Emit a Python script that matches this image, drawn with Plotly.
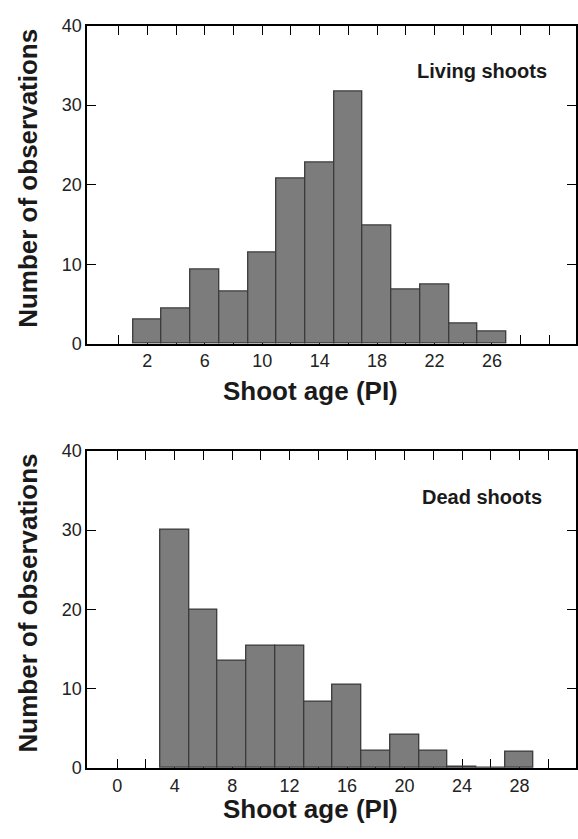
import plotly.graph_objects as go

# ---- data ----
bin_width = 2
living_bins = [2, 4, 6, 8, 10, 12, 14, 16, 18, 20, 22, 24, 26]
living_counts = [3.0, 4.4, 9.3, 6.6, 11.5, 20.8, 22.8, 31.7, 14.9, 6.8, 7.5, 2.6, 1.6]
dead_bins = [4, 6, 8, 10, 12, 14, 16, 18, 20, 22, 24, 26, 28]
dead_counts = [30.0, 20.0, 13.5, 15.4, 15.4, 8.4, 10.5, 2.2, 4.2, 2.2, 0.2, 0.0, 2.1]

x_tick_vals = list(range(0, 31, 2))
living_tick_text = [str(v) if v % 4 == 2 and v <= 26 else "" for v in x_tick_vals]
dead_tick_text = [str(v) if v % 4 == 0 and v <= 28 else "" for v in x_tick_vals]
y_tick_vals = [0, 10, 20, 30, 40]

panel_labels = ["Living shoots", "Dead shoots"]
x_title = "Shoot age (PI)"
y_title = "Number of observations"

# ---- figure ----
W, H = 578, 839
FONT = "Liberation Sans, Arial, Helvetica, sans-serif"
bar_fill = "#7c7c7c"
bar_edge = "#3a3a3a"

fig = go.Figure()
fig.add_trace(go.Bar(x=living_bins, y=living_counts, width=bin_width,
                     marker=dict(color=bar_fill, line=dict(color=bar_edge, width=1.3)),
                     xaxis="x", yaxis="y", showlegend=False))
fig.add_trace(go.Bar(x=dead_bins, y=dead_counts, width=bin_width,
                     marker=dict(color=bar_fill, line=dict(color=bar_edge, width=1.3)),
                     xaxis="x2", yaxis="y2", showlegend=False))

def px_x(p):
    return p / W

def px_y(p):
    return 1 - p / H

xdom = [px_x(87.5), px_x(576.5)]
axis_common = dict(showline=True, linecolor="black", linewidth=2, mirror="ticks",
                   ticks="inside", ticklen=9, tickwidth=1.3, tickcolor="black",
                   showgrid=False, zeroline=False, layer="below traces",
                   tickfont=dict(family=FONT, size=18, color="#222"))

fig.update_layout(
    width=W, height=H,
    margin=dict(l=0, r=0, t=0, b=0),
    paper_bgcolor="white", plot_bgcolor="white",
    bargap=0,
    xaxis=dict(domain=xdom, range=[-2.18, 31.82], tickvals=x_tick_vals,
               ticktext=living_tick_text, anchor="y", **axis_common),
    yaxis=dict(domain=[px_y(342), px_y(16)], range=[0, 40], tickvals=y_tick_vals,
               anchor="x", **axis_common),
    xaxis2=dict(domain=xdom, range=[-2.08, 31.9], tickvals=x_tick_vals,
                ticktext=dead_tick_text, anchor="y2", **axis_common),
    yaxis2=dict(domain=[px_y(776.7), px_y(451.5)], range=[0, 40], tickvals=y_tick_vals,
                anchor="x2", **axis_common),
)

title_font = dict(family=FONT, size=26, color="#1a1a1a")
anns = []
for yc_title, yc_ytitle, yc_label, lab in [(390, 172, 63, panel_labels[0]),
                                          (818, 607, 499, panel_labels[1])]:
    anns.append(dict(text="<b>" + x_title + "</b>", xref="paper", yref="paper",
                     x=px_x(311), y=px_y(yc_title), xanchor="center", yanchor="middle",
                     showarrow=False, font=title_font))
    anns.append(dict(text="<b>" + y_title + "</b>", xref="paper", yref="paper",
                     x=px_x(28), y=px_y(yc_ytitle), xanchor="center", yanchor="middle",
                     textangle=-90, showarrow=False, font=title_font))
    anns.append(dict(text="<b>" + lab + "</b>", xref="paper", yref="paper",
                     x=px_x(483), y=px_y(yc_label), xanchor="center", yanchor="middle",
                     showarrow=False, font=dict(family=FONT, size=20, color="#1a1a1a")))
fig.update_layout(annotations=anns)

fig.write_html("out.html",
               config={"displayModeBar": False},
               post_script="document.body.style.margin='0';document.body.style.overflow='hidden';")
